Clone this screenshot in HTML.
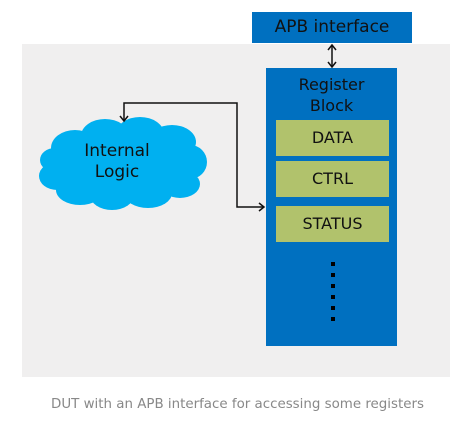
<!DOCTYPE html>
<html><head><style>
body{margin:0;width:475px;height:423px;background:#fff;position:relative;font-family:"DejaVu Sans","Liberation Sans",sans-serif;overflow:hidden}
.a{position:absolute}
.g{background:#b1c26c;color:#111;font-size:16px;text-align:center;line-height:36px;left:276px;width:113px;height:36px}
</style></head><body>
<div class="a" style="left:22px;top:44px;width:428px;height:333px;background:#f0efef"></div>
<div class="a" style="left:252px;top:12px;width:160px;height:31px;background:#0070c0;color:#111;font-size:17px;text-align:center;line-height:31px">APB interface</div>
<div class="a" style="left:266px;top:68px;width:131px;height:278px;background:#0070c0"></div>
<div class="a" style="left:266px;top:74px;width:131px;color:#111;font-size:16px;text-align:center;line-height:21px">Register<br>Block</div>
<div class="a g" style="top:120px">DATA</div>
<div class="a g" style="top:161px">CTRL</div>
<div class="a g" style="top:206px">STATUS</div>
<svg class="a" style="left:0;top:0" width="475" height="423">
<g fill="#00b0f0">
<ellipse cx="123" cy="164" rx="80" ry="34"/>
<ellipse cx="75" cy="148" rx="24" ry="18"/><ellipse cx="105" cy="136" rx="24" ry="17"/><ellipse cx="140" cy="134" rx="24" ry="17"/><ellipse cx="172" cy="142" rx="24" ry="17"/><ellipse cx="190" cy="162" rx="17" ry="17"/>
<ellipse cx="180" cy="184" rx="20" ry="14"/><ellipse cx="148" cy="193" rx="24" ry="15"/><ellipse cx="112" cy="195" rx="22" ry="15"/><ellipse cx="80" cy="190" rx="24" ry="15"/><ellipse cx="57" cy="176" rx="18" ry="14"/><ellipse cx="55" cy="160" rx="15" ry="12"/>
</g>
<g stroke="#111" stroke-width="1.5" fill="none">
<line x1="332" y1="46" x2="332" y2="66"/>
<polyline points="328,50 332,45 336,50"/><polyline points="328,62 332,67 336,62"/>
<polyline points="124,120 124,103 237,103 237,207 263,207"/>
<polyline points="120,116 124,121 128,116"/><polyline points="259,203 264,207 259,211"/>
</g>
<g fill="#000"><rect x="331" y="262" width="4" height="4"/><rect x="331" y="273" width="4" height="4"/><rect x="331" y="284" width="4" height="4"/><rect x="331" y="295" width="4" height="4"/><rect x="331" y="306" width="4" height="4"/><rect x="331" y="317" width="4" height="4"/></g>
</svg>
<div class="a" style="left:52px;top:141px;width:130px;color:#111;font-size:17px;text-align:center;line-height:21px">Internal<br>Logic</div>
<div class="a" style="left:0;top:397px;width:475px;color:#888;font-size:13.4px;text-align:center">DUT with an APB interface for accessing some registers</div>
</body></html>
